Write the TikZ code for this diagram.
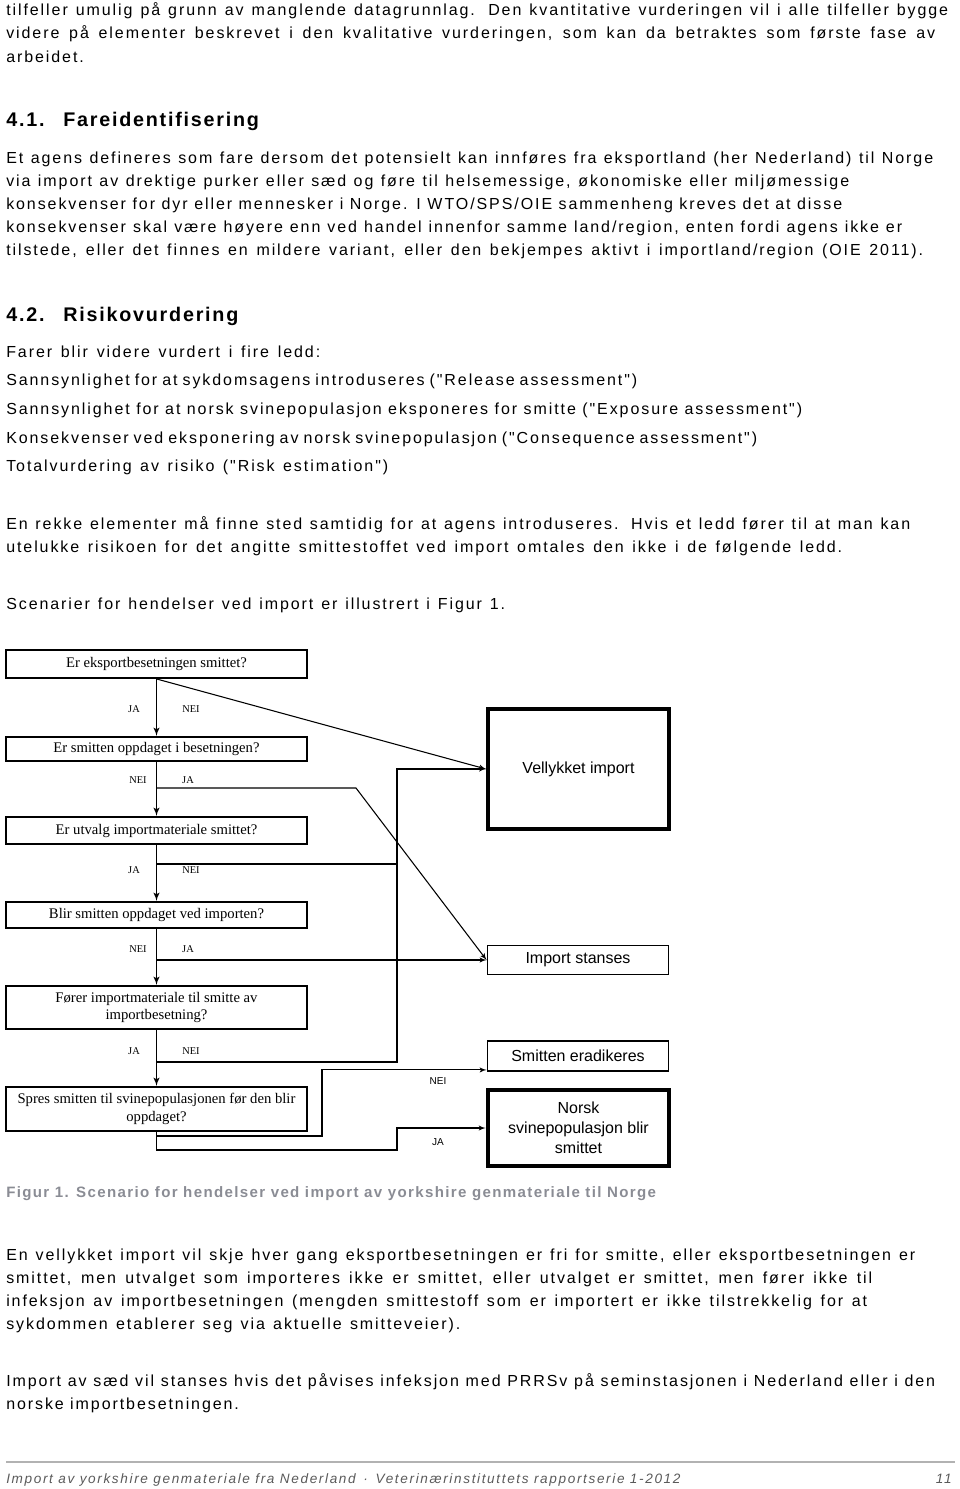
\documentclass[tikz,border=0pt]{standalone}
\usepackage{fontspec}
\setmainfont{Liberation Sans}[LetterSpace=12,Ligatures=TeXOff]
\newfontfamily\headfont{Liberation Sans}[LetterSpace=9]
\newfontfamily\capfont{Liberation Sans}[LetterSpace=9]
\newfontfamily\boxfont{Liberation Serif}
\newfontfamily\plainsans{Liberation Sans}
\usetikzlibrary{arrows}
\definecolor{capgray}{RGB}{138,140,148}
\definecolor{footgray}{RGB}{90,90,90}
% a text line that runs from x=6 to the given right end (in px)
\newcommand{\fitline}[2]{\makebox[\dimexpr (#1pt-6pt)*3/4\relax][s]{#2}}

\begin{document}
\begin{tikzpicture}[
		x=0.75pt,y=-0.75pt,
		txt/.style={anchor=base west,inner sep=0pt,font=\fontsize{12}{14}\selectfont},
		head/.style={anchor=base west,inner sep=0pt,font=\headfont\fontsize{14.8}{17}\selectfont\bfseries},
		qbox/.style={draw,line width=1.4pt,minimum width=225.75pt,inner sep=0pt,align=center,
			font=\boxfont\fontsize{11}{13.3}\selectfont},
		endbox/.style={draw,minimum width=135.75pt,inner sep=0pt,align=center,
			font=\plainsans\fontsize{12}{15}\selectfont},
		yn/.style={inner sep=0pt,font=\boxfont\fontsize{7.8}{9}\selectfont},
		yn2/.style={inner sep=0pt,font=\plainsans\fontsize{7.5}{9}\selectfont},
		stem/.style={line width=1.2pt},
		link/.style={line width=0.8pt},
		>=latex']
	\useasboundingbox (0,0) rectangle (960,1489);
	%% text above the figure
	\node[txt] (l1) at (6,15) {\fitline{948}{tilfeller umulig på grunn av manglende datagrunnlag. Den kvantitative vurderingen vil i alle tilfeller bygge}};
	\node[txt] (l2) at (6,38) {\fitline{935}{videre på elementer beskrevet i den kvalitative vurderingen, som kan da betraktes som første fase av}};
	\node[txt] (l3) at (6,62) {arbeidet.};
	\node[head] (h1n) at (6,126) {4.1.};
	\node[head] (h1) at (63,126) {Fareidentifisering};
	\node[txt] (f1) at (6,163) {\fitline{933}{Et agens defineres som fare dersom det potensielt kan innføres fra eksportland (her Nederland) til Norge}};
	\node[txt] (f2) at (6,186) {\fitline{849}{via import av drektige purker eller sæd og føre til helsemessige, økonomiske eller miljømessige}};
	\node[txt] (f3) at (6,209) {\fitline{842}{konsekvenser for dyr eller mennesker i Norge. I WTO/SPS/OIE sammenheng kreves det at disse}};
	\node[txt] (f4) at (6,232) {\fitline{902}{konsekvenser skal være høyere enn ved handel innenfor samme land/region, enten fordi agens ikke er}};
	\node[txt] (f5) at (6,255) {\fitline{923}{tilstede, eller det finnes en mildere variant, eller den bekjempes aktivt i importland/region (OIE 2011).}};
	\node[head] (h2n) at (6,321) {4.2.};
	\node[head] (h2) at (63,321) {Risikovurdering};
	\node[txt] (r1) at (6,357) {\fitline{320}{Farer blir videre vurdert i fire ledd:}};
	\node[txt] (r2) at (6,385) {\fitline{637}{Sannsynlighet for at sykdomsagens introduseres ("Release assessment")}};
	\node[txt] (r3) at (6,414) {\fitline{802}{Sannsynlighet for at norsk svinepopulasjon eksponeres for smitte ("Exposure assessment")}};
	\node[txt] (r4) at (6,443) {\fitline{757}{Konsekvenser ved eksponering av norsk svinepopulasjon ("Consequence assessment")}};
	\node[txt] (r5) at (6,471) {\fitline{388}{Totalvurdering av risiko ("Risk estimation")}};
	\node[txt] (e1) at (6,529) {\fitline{910}{En rekke elementer må finne sted samtidig for at agens introduseres. Hvis et ledd fører til at man kan}};
	\node[txt] (e2) at (6,552) {\fitline{842}{utelukke risikoen for det angitte smittestoffet ved import omtales den ikke i de følgende ledd.}};
	\node[txt] (s1) at (6,609) {\fitline{505}{Scenarier for hendelser ved import er illustrert i Figur 1.}};
	%% decision boxes
	\node[qbox,minimum height=21pt] (q1) at (156.5,664) {Er eksportbesetningen smittet?};
	\node[qbox,minimum height=18pt] (q2) at (156.5,749) {Er smitten oppdaget i besetningen?};
	\node[qbox,minimum height=20.25pt] (q3) at (156.5,830.5) {Er utvalg importmateriale smittet?};
	\node[qbox,minimum height=19.5pt] (q4) at (156.5,915) {Blir smitten oppdaget ved importen?};
	\node[qbox,minimum height=32.25pt] (q5) at (156.5,1007.5) {Fører importmateriale til smitte av\\importbesetning?};
	\node[qbox,minimum height=33pt] (q6) at (156.5,1109) {Spres smitten til svinepopulasjonen før den blir\\oppdaget?};
	%% outcomes
	\node[endbox,line width=3pt,minimum height=90pt] (ok) at (578.5,769) {Vellykket import};
	\node[endbox,line width=1.4pt,minimum height=21.75pt] (stop) at (578,960) {Import stanses};
	\node[endbox,line width=1.4pt,minimum height=22.5pt] (erad) at (578,1056) {Smitten eradikeres};
	\node[endbox,line width=3.5pt,minimum height=57pt] (norsk) at (578.5,1128) {Norsk\\svinepopulasjon blir\\smittet};
	%% main path
	\draw[stem,->] (q1.south) -- (q2.north);
	\draw[stem,->] (q2.south) -- (q3.north);
	\draw[stem,->] (q3.south) -- (q4.north);
	\draw[stem,->] (q4.south) -- (q5.north);
	\draw[stem,->] (q5.south) -- (q6.north);
	%% side branches
	\coordinate (k2) at (356,788);
	\coordinate (c3) at (397,864);
	\coordinate (c5) at (397,1062);
	\coordinate (c6a) at (322,1136);
	\coordinate (c6b) at (397,1150);
	\draw[link,->] (q1.south) -- (ok.west);
	\draw[link,->] (q2.south |- k2) -- (k2) -- (stop.west);
	\draw[link] (q3.south |- c3) -- (c3);
	\draw[link,->] (q4.south |- stop.west) -- (stop.west);
	\draw[link,->] (q5.south |- c5) -- (c5) |- (ok.west);
	\draw[link,->] (q6.south) |- (c6a) |- ([yshift=1.5pt]erad.south west);
	\draw[link,->] (q6.south) |- (c6b) |- (norsk.west);
	%% answers
	\node[yn] (a1) at (134,709) {JA};
	\node[yn] (b1) at (191,709) {NEI};
	\node[yn] (b2) at (138,780) {NEI};
	\node[yn] (a2) at (188,780) {JA};
	\node[yn] (a3) at (134,870) {JA};
	\node[yn] (b3) at (191,870) {NEI};
	\node[yn] (b4) at (138,949) {NEI};
	\node[yn] (a4) at (188,949) {JA};
	\node[yn] (a5) at (134,1051) {JA};
	\node[yn] (b5) at (191,1051) {NEI};
	\node[yn2] (b6) at (438,1081) {NEI};
	\node[yn2] (a6) at (438,1142) {JA};
	%% caption and text below
	\node[anchor=base west,inner sep=0pt,text=capgray,font=\capfont\fontsize{11.3}{13}\selectfont\bfseries] (cap) at (6,1197) {Figur 1. Scenario for hendelser ved import av yorkshire genmateriale til Norge};
	\node[txt] (v1) at (6,1260) {\fitline{915}{En vellykket import vil skje hver gang eksportbesetningen er fri for smitte, eller eksportbesetningen er}};
	\node[txt] (v2) at (6,1283) {\fitline{872}{smittet, men utvalget som importeres ikke er smittet, eller utvalget er smittet, men fører ikke til}};
	\node[txt] (v3) at (6,1306) {\fitline{867}{infeksjon av importbesetningen (mengden smittestoff som er importert er ikke tilstrekkelig for at}};
	\node[txt] (v4) at (6,1329) {\fitline{460}{sykdommen etablerer seg via aktuelle smitteveier).}};
	\node[txt] (i1) at (6,1386) {\fitline{935}{Import av sæd vil stanses hvis det påvises infeksjon med PRRSv på seminstasjonen i Nederland eller i den}};
	\node[txt] (i2) at (6,1409) {norske importbesetningen.};
	%% footer
	\draw[gray!60,line width=0.8pt] (6,1462) -- (955,1462);
	\node[anchor=base west,inner sep=0pt,text=footgray,font=\fontsize{10.2}{12}\selectfont\itshape] (ft) at (6,1483) {Import av yorkshire genmateriale fra Nederland \,·\, Veterinærinstituttets rapportserie 1-2012};
	\node[anchor=base east,inner sep=0pt,text=footgray,font=\fontsize{10.2}{12}\selectfont\itshape] (pg) at (952,1483) {11};
\end{tikzpicture}
\end{document}
